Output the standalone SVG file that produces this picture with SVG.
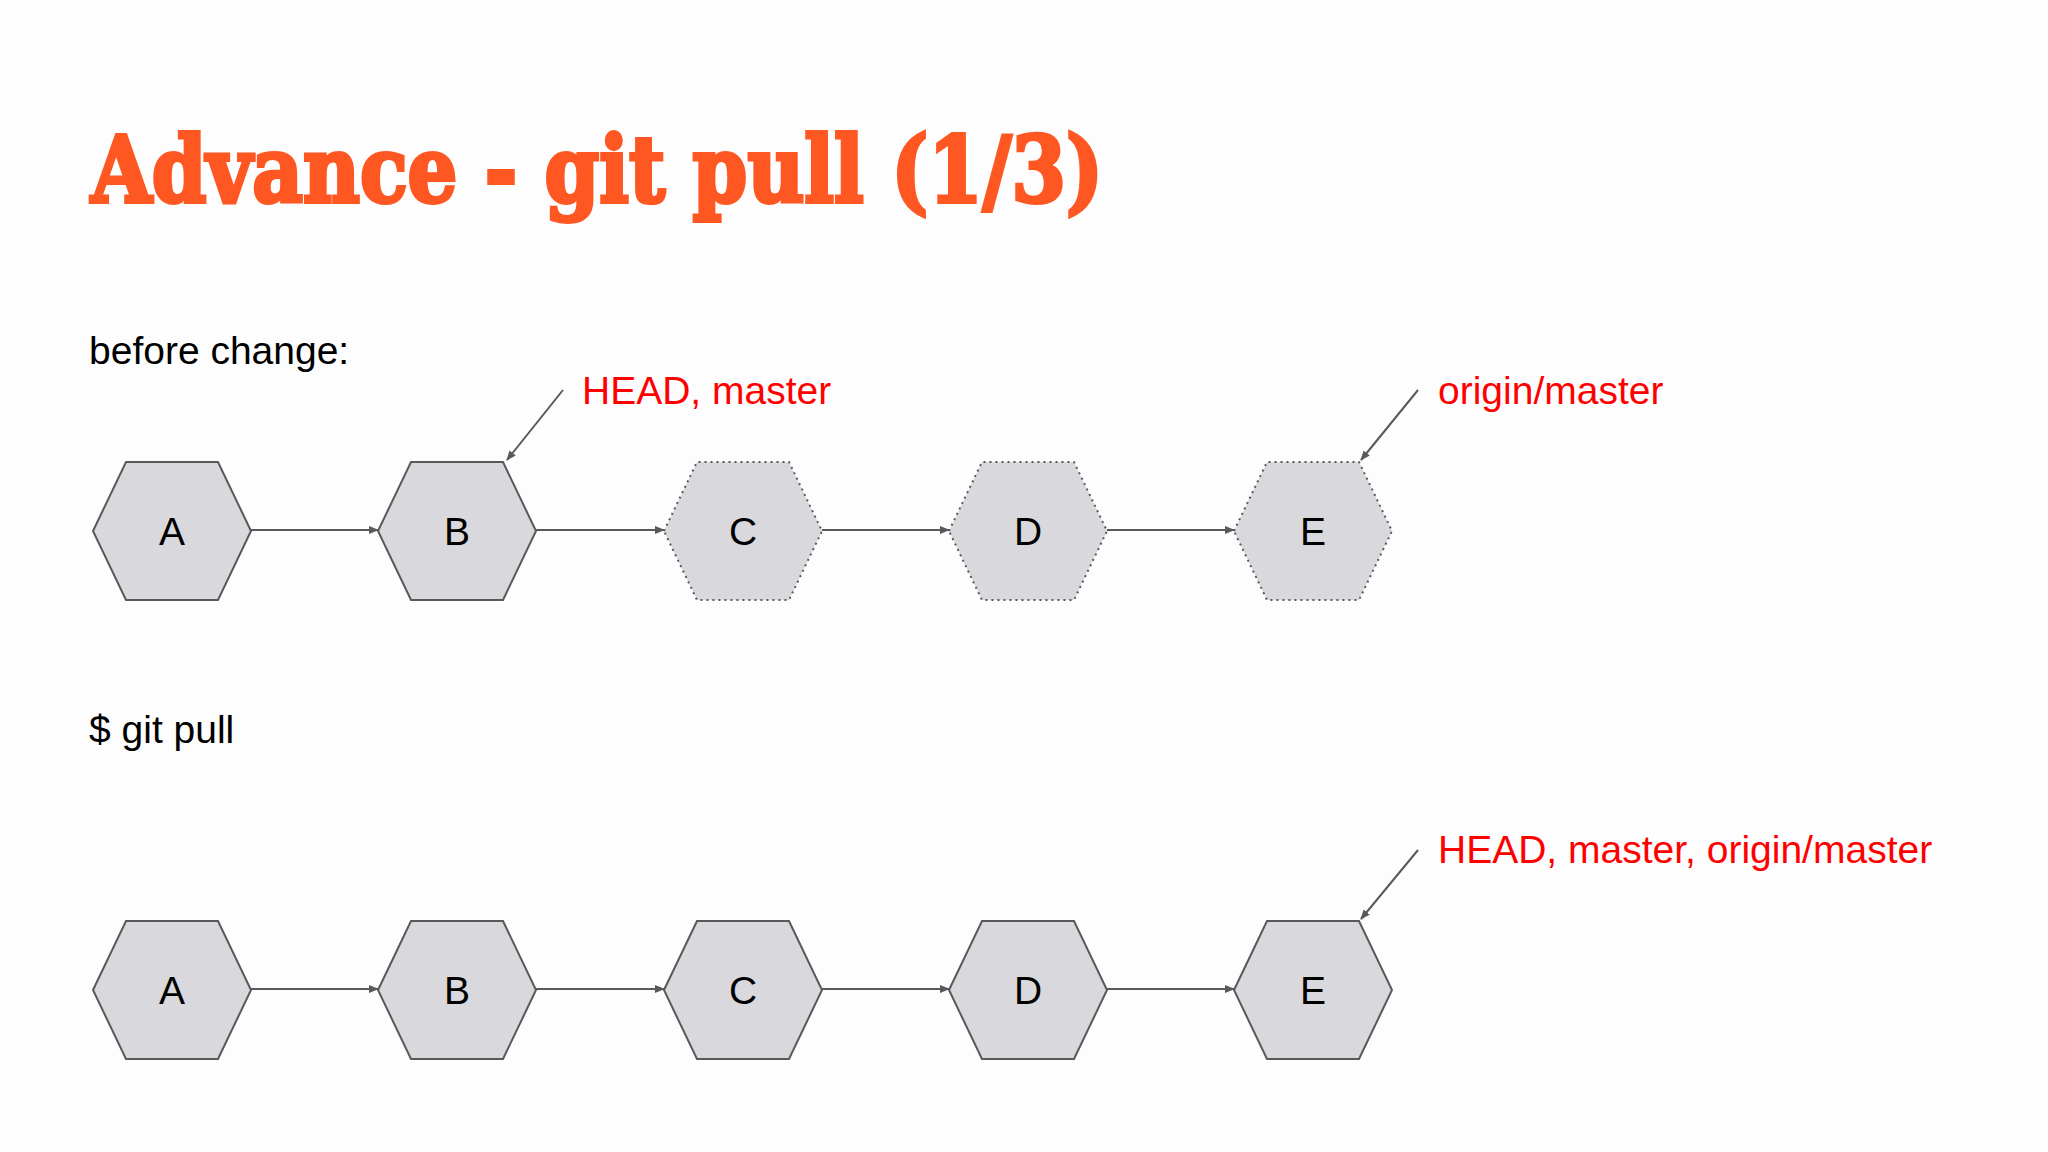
<svg xmlns="http://www.w3.org/2000/svg" width="2048" height="1152" viewBox="0 0 2048 1152">
<defs>
<marker id="ah" markerWidth="10" markerHeight="8" refX="9" refY="4" orient="auto" markerUnits="userSpaceOnUse"><path d="M0,0 L10,4 L0,8 z" fill="#595959"/></marker>
<polygon id="hex" points="-79,0 -46,-69 46,-69 79,0 46,69 -46,69"/>
</defs>
<style>
.solid{fill:#d9d8dc;stroke:#595959;stroke-width:2}
.dot{fill:#d9d8dc;stroke:#595959;stroke-width:2;stroke-dasharray:2 4}
.lbl{font-family:"Liberation Sans",Arial,sans-serif;font-size:39px;fill:#000;text-anchor:middle}
.txt{font-family:"Liberation Sans",Arial,sans-serif;font-size:39px;fill:#000}
.red{font-family:"Liberation Sans",Arial,sans-serif;font-size:39px;fill:#f00}
.c{stroke:#595959;stroke-width:2;fill:none;marker-end:url(#ah)}
</style>
<rect width="2048" height="1152" fill="#fdfdfe"/>
<text x="91" y="202" font-family="'DejaVu Serif',serif" font-weight="bold" font-size="92" fill="#ff5722" stroke="#ff5722" stroke-width="4" textLength="1012" lengthAdjust="spacingAndGlyphs">Advance - git pull (1/3)</text>
<text class="txt" x="89" y="364">before change:</text>
<text class="red" x="582" y="404">HEAD, master</text>
<text class="red" x="1438" y="404">origin/master</text>
<text class="txt" x="89" y="743">$ git pull</text>
<text class="red" x="1438" y="863">HEAD, master, origin/master</text>
<g id="connectors">
<line class="c" x1="251" y1="530" x2="378" y2="530"/>
<line class="c" x1="536" y1="530" x2="664" y2="530"/>
<line class="c" x1="822" y1="530" x2="949" y2="530"/>
<line class="c" x1="1107" y1="530" x2="1234" y2="530"/>
<line class="c" x1="251" y1="989" x2="378" y2="989"/>
<line class="c" x1="536" y1="989" x2="664" y2="989"/>
<line class="c" x1="822" y1="989" x2="949" y2="989"/>
<line class="c" x1="1107" y1="989" x2="1234" y2="989"/>
<line class="c" x1="563" y1="390" x2="507" y2="460"/>
<line class="c" x1="1418" y1="390" x2="1361" y2="460"/>
<line class="c" x1="1418" y1="850" x2="1361" y2="919"/>
</g>
<g id="a1" transform="translate(172,531)"><use href="#hex" class="solid"/><text class="lbl" y="14">A</text></g>
<g id="b1" transform="translate(457,531)"><use href="#hex" class="solid"/><text class="lbl" y="14">B</text></g>
<g id="c1" transform="translate(743,531)"><use href="#hex" class="dot"/><text class="lbl" y="14">C</text></g>
<g id="d1" transform="translate(1028,531)"><use href="#hex" class="dot"/><text class="lbl" y="14">D</text></g>
<g id="e1" transform="translate(1313,531)"><use href="#hex" class="dot"/><text class="lbl" y="14">E</text></g>
<g id="a2" transform="translate(172,990)"><use href="#hex" class="solid"/><text class="lbl" y="14">A</text></g>
<g id="b2" transform="translate(457,990)"><use href="#hex" class="solid"/><text class="lbl" y="14">B</text></g>
<g id="c2" transform="translate(743,990)"><use href="#hex" class="solid"/><text class="lbl" y="14">C</text></g>
<g id="d2" transform="translate(1028,990)"><use href="#hex" class="solid"/><text class="lbl" y="14">D</text></g>
<g id="e2" transform="translate(1313,990)"><use href="#hex" class="solid"/><text class="lbl" y="14">E</text></g>
</svg>
